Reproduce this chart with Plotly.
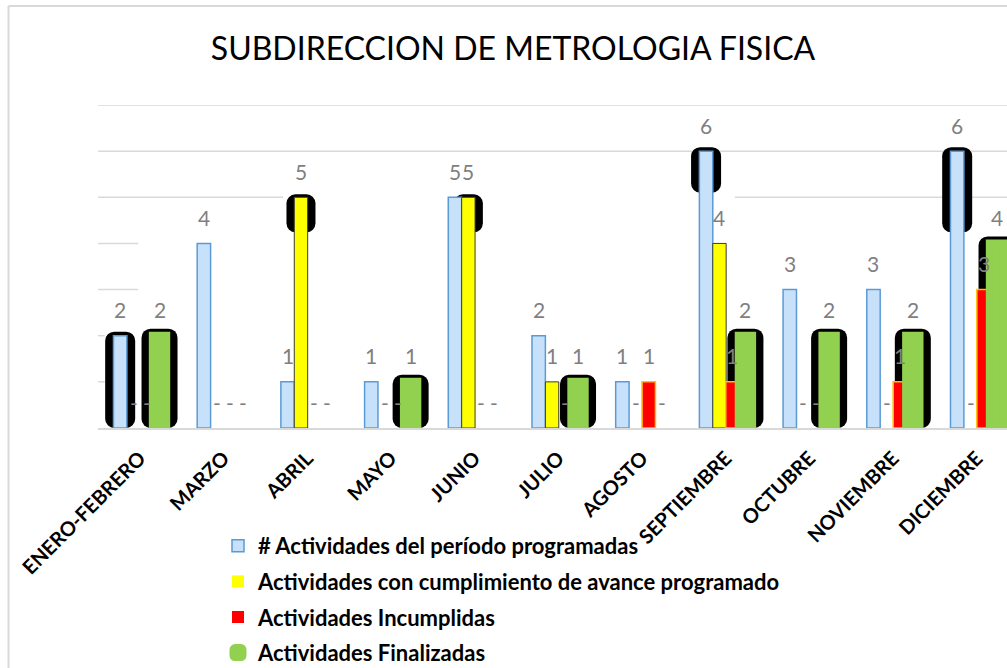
import plotly.graph_objects as go

# ---------------- data ----------------
categories = ["ENERO-FEBRERO", "MARZO", "ABRIL", "MAYO", "JUNIO", "JULIO",
              "AGOSTO", "SEPTIEMBRE", "OCTUBRE", "NOVIEMBRE", "DICIEMBRE"]
programadas = [2, 4, 1, 1, 5, 2, 1, 6, 3, 3, 6]
cumplimiento = [0, 0, 5, 0, 5, 1, 0, 4, 0, 0, 0]
incumplidas = [0, 0, 0, 0, 0, 0, 1, 1, 0, 1, 3]
finalizadas = [2, 0, 0, 1, 0, 1, 0, 2, 2, 2, 4]

series_names = ["# Actividades del período programadas",
                "Actividades con cumplimiento de avance programado",
                "Actividades Incumplidas",
                "Actividades Finalizadas"]

# black halo artefacts of the original chart: value where each halo starts (None = no halo)
halo_programadas = [0, None, None, None, None, None, None, 5.1, None, None, 4.24]
halo_cumplimiento = [None, None, 4.24, None, 4.24, None, None, None, None, None, None]
halo_finalizadas = [0, None, None, 0, None, 0, None, 0, 0, 0, 0]

title_text = "SUBDIRECCION DE METROLOGIA FISICA"

# ---------------- layout constants ----------------
W, H = 1007, 668
ML, MR, MT, MB = 98, 0, 105, 240
YMAX = 7
PX_PER_UNIT = (H - MT - MB) / YMAX
PX_PER_CAT = 83.7
XR = [-0.5, -0.5 + (W - ML - MR) / PX_PER_CAT]

BAR_W = 0.16
centers = [-0.235, -0.075, 0.08, 0.235]
idx = list(range(len(categories)))

FONT = "Lato, Carlito, Calibri, 'Open Sans', sans-serif"

def px2u(p):
    return p / PX_PER_UNIT

fig = go.Figure()

# halos (drawn first, behind bars)
def add_halo(halo, values, center, width_px, pad_px):
    xs, base, hts = [], [], []
    for i, (h, v) in enumerate(zip(halo, values)):
        if h is None:
            continue
        top = v + px2u(pad_px)
        xs.append(i)
        base.append(h)
        hts.append(top - h)
    w = width_px / PX_PER_CAT
    fig.add_trace(go.Bar(
        x=xs, y=hts, base=base, width=w, offset=center - w / 2,
        marker=dict(color="black", line=dict(width=0), cornerradius=9),
        showlegend=False, hoverinfo="skip", legendgroup="halo"))

add_halo(halo_programadas, programadas, centers[0], 30, 4)
add_halo(halo_cumplimiento, cumplimiento, centers[1], 29, 3)
add_halo(halo_finalizadas, finalizadas, centers[3], 36, 7)

styles = [
    dict(color="#c8e1fa", line_color="#5b9bd5", lw=1.5, cr=0),
    dict(color="#ffff00", line_color="#3a3a3a", lw=1.0, cr=0),
    dict(color="#ff0000", line_color="#ffc000", lw=1.5, cr=0),
    dict(color="#92d050", line_color="#92d050", lw=8, cr=3),
]
all_series = [programadas, cumplimiento, incumplidas, finalizadas]

for k, (vals, name, st) in enumerate(zip(all_series, series_names, styles)):
    fig.add_trace(go.Bar(
        x=idx, y=vals, name=name, width=BAR_W, offset=centers[k] - BAR_W / 2,
        legendgroup=f"g{k}",
        marker=dict(color=st["color"], cornerradius=st["cr"],
                    line=dict(color=st["line_color"],
                              width=[st["lw"] if v else 0 for v in vals])),
    ))

# data labels
annotations = []
for k, vals in enumerate(all_series):
    for i, v in enumerate(vals):
        annotations.append(dict(
            x=i + centers[k], y=v, xref="x", yref="y",
            text=str(v) if v else "-", showarrow=False, yshift=26,
            yanchor="middle", xanchor="center",
            font=dict(family=FONT, size=21, color="#7f7f7f")))

# gridlines (as in the original, several are partly hidden)
grid_color = "#d9d9d9"
grid_segments = [
    (7, -0.5, XR[1]), (6, -0.5, XR[1]),
    (5, -0.5, 1.71), (5, 7.11, XR[1]),
    (4, -0.5, -0.02), (3, -0.5, -0.02),
    (2, -0.5, -0.42), (1, -0.5, -0.42),
]
shapes = []
for yv, x0, x1 in grid_segments:
    shapes.append(dict(type="line", xref="x", yref="y", x0=x0, x1=x1, y0=yv, y1=yv,
                       line=dict(color=grid_color, width=1.5), layer="below"))

# outer chart border (left and top)
bx = (8.5 - ML) / (W - ML - MR)
by = (H - MB - 6) / (H - MT - MB)
shapes.append(dict(type="line", xref="paper", yref="paper", x0=bx, x1=bx, y0=by, y1=-2,
                   line=dict(color=grid_color, width=2), layer="below"))
shapes.append(dict(type="line", xref="paper", yref="paper", x0=bx, x1=1.2, y0=by, y1=by,
                   line=dict(color=grid_color, width=2), layer="below"))

fig.update_layout(
    width=W, height=H,
    margin=dict(l=ML, r=MR, t=MT, b=MB, pad=0, autoexpand=False),
    paper_bgcolor="white", plot_bgcolor="white",
    barmode="overlay",
    title=dict(text=title_text, x=513 / W, xref="container", xanchor="center",
               y=1 - 49 / H, yref="container", yanchor="middle",
               font=dict(family=FONT, size=32, color="#000000")),
    xaxis=dict(range=XR, tickmode="array", tickvals=idx, ticktext=categories,
               tickangle=-45, showgrid=False, zeroline=False, ticks="",
               ticklabelstandoff=9, automargin=False,
               showline=True, linecolor=grid_color, linewidth=1.5,
               tickfont=dict(family=FONT, size=20, color="black", weight="bold")),
    yaxis=dict(range=[0, YMAX], showticklabels=False, showgrid=False,
               zeroline=False, ticks="", automargin=False),
    legend=dict(x=(218 - ML) / (W - ML - MR), xanchor="left",
                y=(H - MB - 525) / (H - MT - MB), yanchor="top",
                orientation="v", traceorder="grouped", tracegroupgap=4,
                bgcolor="rgba(0,0,0,0)",
                font=dict(family=FONT, size=22, color="black", weight="bold")),
    annotations=annotations,
    shapes=shapes,
    showlegend=True,
)

fig.write_html("out.html", config={"displayModeBar": False},
               post_script="document.body.style.margin='0';document.body.style.overflow='hidden';")
